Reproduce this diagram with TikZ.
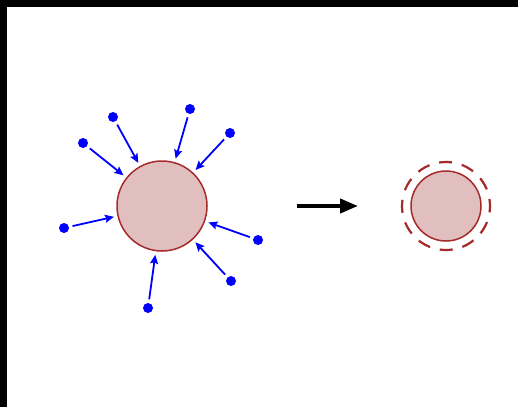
\documentclass[tikz,border=0pt]{standalone}
\usetikzlibrary{arrows.meta}
\definecolor{cellfill}{RGB}{225,191,191}
\definecolor{celledge}{RGB}{165,42,42}
\begin{document}
\begin{tikzpicture}[x=1pt,y=-1pt,
  dot/.style={circle,fill=blue,inner sep=0pt,minimum size=10pt},
  cell/.style={circle,fill=cellfill,draw=celledge,line width=1.5pt,inner sep=0pt},
  inflow/.style={draw=blue,line width=1.8pt,-{Stealth[length=9pt,width=8pt,inset=1.5pt]},shorten <=3.5pt,shorten >=3.5pt},
  bigarrow/.style={draw=black,line width=4pt,-{Triangle[length=18pt,width=14pt]}}]
\useasboundingbox (0,0) rectangle (518,407);
\fill[white] (0,0) rectangle (518,407);
\fill[black] (0,0) rectangle (518,7);
\fill[black] (0,0) rectangle (7,407);
% big cell
\node[cell,minimum size=90pt] (c) at (162,206) {};
% dots
\node[dot] (d1) at (83,143) {};
\node[dot] (d2) at (113,117) {};
\node[dot] (d3) at (190,109) {};
\node[dot] (d4) at (230,133) {};
\node[dot] (d5) at (64,228) {};
\node[dot] (d6) at (258,240) {};
\node[dot] (d7) at (231,281) {};
\node[dot] (d8) at (148,308) {};
\foreach \d in {d1,d2,d3,d4,d5,d6,d7,d8}{
  \draw[inflow] (\d) -- (c);
}
% big arrow
\coordinate (a1) at (297,206);
\coordinate (a2) at (358,206);
\draw[bigarrow] (a1) -- (a2);
% small cell with dashed halo
\node[cell,minimum size=70pt] (s) at (446,206) {};
\draw[celledge,line width=2.2pt,dash pattern=on 13pt off 10pt,dash phase=6pt] (s.center) circle[radius=44pt];
\end{tikzpicture}
\end{document}
